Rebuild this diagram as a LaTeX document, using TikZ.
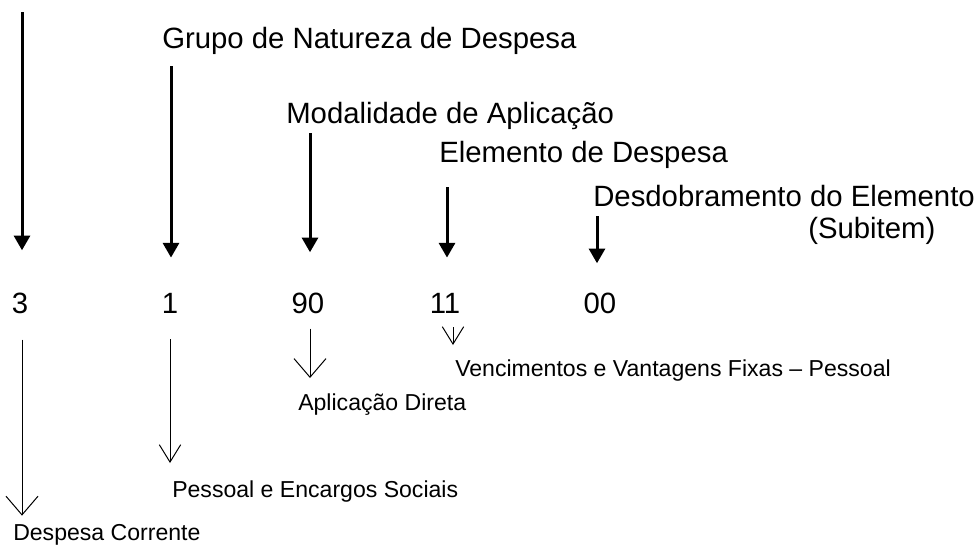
\documentclass[tikz,border=0pt]{standalone}
\usepackage{fontspec}
\setmainfont{Liberation Sans}
\usetikzlibrary{arrows.meta}

\tikzset{
  rotulo/.style={font=\fontsize{22}{26}\selectfont, inner sep=0pt, anchor=base west},
  codigo/.style={font=\fontsize{22}{26}\selectfont, inner sep=0pt, anchor=base},
  descr/.style={font=\fontsize{17.3}{21}\selectfont, inner sep=0pt, anchor=base west},
  grossa/.style={line width=2.25pt, -{Triangle[length=11pt,width=12pt]}},
  fina/.style={line width=0.75pt, -{Straight Barb[length=14pt,width=24pt]}},
  finacurta/.style={line width=0.75pt, -{Straight Barb[length=13pt,width=16pt]}},
}

\begin{document}
\begin{tikzpicture}[x=0.75pt,y=-0.75pt]
			\useasboundingbox (0,0) rectangle (976,547);
			% titulos
			\node[rotulo] (grupo) at (162,48) {Grupo de Natureza de Despesa};
			\node[rotulo] (modal) at (286,123) {Modalidade de Aplicação};
			\node[rotulo] (elem) at (439,162) {Elemento de Despesa};
			\node[rotulo] (desd) at (593,206) {Desdobramento do Elemento};
			\node[rotulo] (subit) at (808,238) {(Subitem)};
			% codigo
			\node[codigo] (d3) at (20,313) {3};
			\node[codigo] (d1) at (170,313) {1};
			\node[codigo] (d90) at (308,313) {90};
			\node[codigo] (d11) at (445,313) {11};
			\node[codigo] (d00) at (600,313) {00};
			% significados
			\node[descr] (corr) at (13,540) {Despesa Corrente};
			\node[descr] (pess) at (172,497) {Pessoal e Encargos Sociais};
			\node[descr] (apd) at (298,410) {Aplicação Direta};
			\node[descr] (venc) at (455,376) {Vencimentos e Vantagens Fixas – Pessoal};
			% setas de cima
			\coordinate (s3) at (22,12);
			\coordinate (s1) at (171,66);
			\coordinate (s90) at (310,133);
			\coordinate (s11) at (447,187);
			\coordinate (s00) at (597,216);
			\draw[grossa, shorten >=31.5pt] (s3) -- (s3 |- d3.north);
			\draw[grossa, shorten >=26.25pt] (s1) -- (s1 |- d1.north);
			\draw[grossa, shorten >=30pt] (s90) -- (s90 |- d90.north);
			\draw[grossa, shorten >=26.25pt] (s11) -- (s11 |- d11.north);
			\draw[grossa, shorten >=21.75pt] (s00) -- (s00 |- d00.north);
			% setas de baixo
			\coordinate (x11) at ([xshift=6pt]d11.south);
			\draw[fina, shorten <=19.5pt, shorten >=6pt] (s3 |- d3.south) -- (s3 |- corr.north);
			\draw[finacurta, shorten <=19.5pt, shorten >=12.75pt] (d1.south) -- (d1.south |- pess.north);
			\draw[fina, shorten <=11.25pt, shorten >=11.25pt] (s90 |- d90.south) -- (s90 |- apd.north);
			\draw[finacurta, shorten <=10.5pt, shorten >=10.5pt] (x11) -- (x11 |- venc.north);
		\end{tikzpicture}
\end{document}
